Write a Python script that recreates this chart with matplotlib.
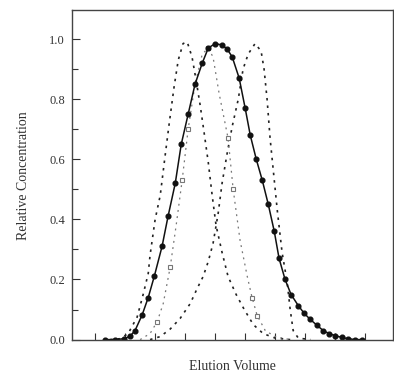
import matplotlib
matplotlib.use("Agg")
import matplotlib.pyplot as plt
from matplotlib.ticker import MultipleLocator

# broad peak, solid line with filled circles
solid_v = [1.33, 1.67, 1.97, 2.17, 2.33, 2.57, 2.77, 2.97, 3.23, 3.43, 3.67, 3.87,
           4.10, 4.33, 4.57, 4.77, 5.00, 5.23, 5.40, 5.57, 5.80, 6.00, 6.17, 6.37,
           6.57, 6.77, 6.97, 7.13, 7.33, 7.53, 7.77, 7.97, 8.17, 8.40, 8.60, 8.80,
           9.00, 9.23, 9.43, 9.67, 9.90]
solid_c = [0.0, 0.0, 0.003, 0.012, 0.03, 0.083, 0.14, 0.21, 0.31, 0.41, 0.52, 0.65,
           0.75, 0.85, 0.92, 0.97, 0.985, 0.98, 0.967, 0.94, 0.87, 0.77, 0.68, 0.60,
           0.53, 0.45, 0.36, 0.27, 0.20, 0.15, 0.113, 0.087, 0.067, 0.047, 0.03, 0.02,
           0.013, 0.007, 0.003, 0.0, 0.0]

# early narrow peak (dotted)
left_v = [1.50, 1.83, 2.10, 2.40, 2.60, 2.77, 2.83, 3.00, 3.17, 3.33, 3.47, 3.63,
          3.77, 3.93, 4.07, 4.23, 4.37, 4.50, 4.63, 4.77, 4.90, 5.03, 5.23, 5.43,
          5.70, 5.97, 6.27, 6.60, 7.00, 7.50]
left_c = [0.0, 0.003, 0.02, 0.075, 0.15, 0.22, 0.28, 0.40, 0.48, 0.61, 0.72, 0.84,
          0.93, 0.985, 0.99, 0.94, 0.86, 0.78, 0.69, 0.59, 0.48, 0.38, 0.29, 0.21,
          0.15, 0.10, 0.05, 0.02, 0.005, 0.0]

# late narrow peak (dotted)
right_v = [2.83, 3.17, 3.50, 3.83, 4.17, 4.40, 4.60, 4.77, 4.93, 5.10, 5.23, 5.40,
           5.57, 5.77, 5.93, 6.10, 6.33, 6.53, 6.63, 6.73, 6.83, 6.97, 7.07, 7.23,
           7.40, 7.50, 7.60, 7.77, 8.17]
right_c = [0.0, 0.01, 0.035, 0.07, 0.12, 0.17, 0.21, 0.26, 0.32, 0.42, 0.52, 0.62,
           0.71, 0.80, 0.90, 0.95, 0.985, 0.96, 0.90, 0.80, 0.67, 0.53, 0.43, 0.29,
           0.19, 0.10, 0.03, 0.005, 0.0]

# intermediate peak, open symbols
mid_v = [2.50, 2.83, 3.07, 3.27, 3.50, 3.70, 3.90, 4.10, 4.33, 4.57, 4.77, 4.93,
         5.13, 5.43, 5.60, 5.83, 6.07, 6.23, 6.40, 6.67, 7.00, 7.50]
mid_c = [0.0, 0.02, 0.06, 0.12, 0.24, 0.38, 0.53, 0.70, 0.85, 0.95, 0.97, 0.94,
         0.82, 0.67, 0.50, 0.33, 0.21, 0.14, 0.08, 0.03, 0.01, 0.0]

y_ticks = [0.0, 0.2, 0.4, 0.6, 0.8, 1.0]
y_tick_labels = ["0.0", "0.2", "0.4", "0.6", "0.8", "1.0"]
x_ticks = [1, 2, 3, 4, 5, 6, 7, 8, 9, 10]

plt.rcParams['font.family'] = ['Liberation Serif', 'DejaVu Serif']
ink = '#333333'

fig = plt.figure(figsize=(3.94, 3.78), dpi=100)
ax = fig.add_axes([0.183, 0.100, 0.815, 0.873])

ax.plot(left_v, left_c, linestyle=(0, (1.5, 3)), color='#222222', linewidth=1.2)
ax.plot(right_v, right_c, linestyle=(0, (1.5, 3)), color='#222222', linewidth=1.2)
ax.plot(mid_v, mid_c, linestyle=(0, (1.5, 3.5)), color='#777777', linewidth=0.9,
        marker='s', markersize=3.5, markerfacecolor='white', markeredgecolor='#777777',
        markeredgewidth=0.8, markevery=[2, 4, 6, 7, 10, 13, 14, 17, 18])
ax.plot(solid_v, solid_c, '-', color='#111111', linewidth=1.1,
        marker='o', markersize=3.4, markerfacecolor='#111111', markeredgecolor='#111111')

ax.set_xlim(0.233, 10.933)
ax.set_ylim(-0.002, 1.096)

ax.set_yticks(y_ticks)
ax.set_yticklabels(y_tick_labels)
ax.yaxis.set_minor_locator(MultipleLocator(0.1))
ax.set_xticks(x_ticks)
ax.set_xticklabels([])
ax.tick_params(axis='y', which='major', direction='in', length=6, width=0.8,
               colors=ink, labelsize=9, pad=5)
ax.tick_params(axis='y', which='minor', direction='in', length=4, width=0.8, colors=ink)
ax.tick_params(axis='x', which='major', direction='in', length=5, width=0.8, colors=ink)

for side in ['left', 'bottom', 'top', 'right']:
    ax.spines[side].set_color('#444444')
    ax.spines[side].set_linewidth(1.0)

ax.set_ylabel('Relative Concentration', fontsize=10, color=ink, labelpad=14)
ax.set_xlabel('Elution Volume', fontsize=10, color=ink, labelpad=11)

fig.savefig('out.png', dpi=100)
